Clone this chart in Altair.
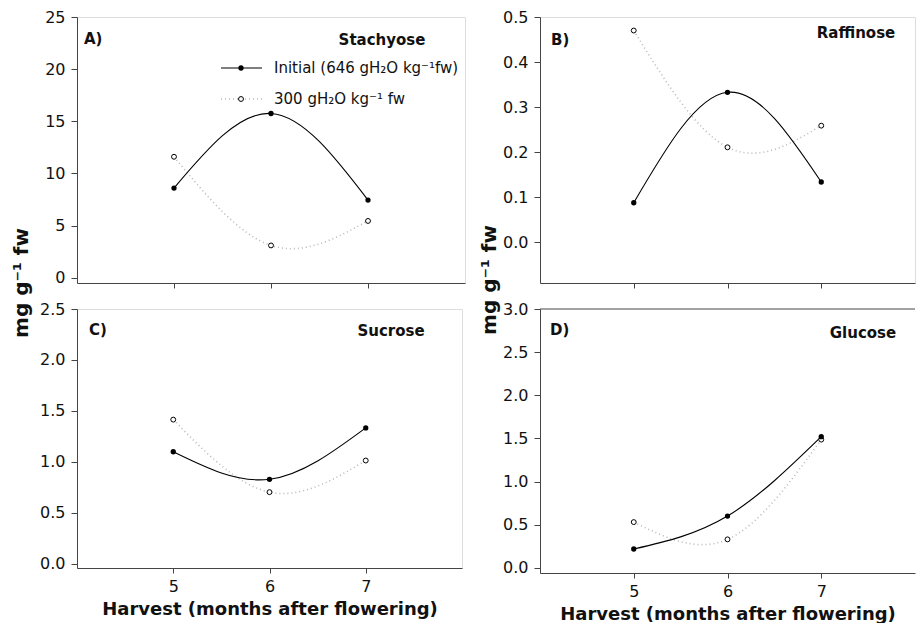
import altair as alt
import pandas as pd

# ---- data ----
months = [5, 6, 7]
stachyose_initial = [8.6, 15.75, 7.45]
stachyose_300 = [11.6, 3.1, 5.45]
raffinose_initial = [0.088, 0.333, 0.134]
raffinose_300 = [0.47, 0.211, 0.259]
sucrose_initial = [1.10, 0.83, 1.334]
sucrose_300 = [1.415, 0.704, 1.014]
glucose_initial = [0.218, 0.60, 1.52]
glucose_300 = [0.53, 0.33, 1.486]

x_ticks = [5, 6, 7]
stach_ticks = [0, 5, 10, 15, 20, 25]
raff_ticks = [0.0, 0.1, 0.2, 0.3, 0.4, 0.5]
sucr_ticks = [0.0, 0.5, 1.0, 1.5, 2.0, 2.5]
gluc_ticks = [0.0, 0.5, 1.0, 1.5, 2.0, 2.5, 3.0]

legend_labels = ["Initial (646 gH\u2082O kg\u207b\u00b9fw)", "300 gH\u2082O kg\u207b\u00b9 fw"]
y_title = "mg g\u207b\u00b9 fw"
x_title = "Harvest (months after flowering)"

FONT = "DejaVu Sans"
AXIS_COLOR = "#444444"
TEXT_COLOR = "#111111"


def text_layer(txt, x, y, size, bold=True, align="left", angle=0, baseline="alphabetic"):
    kw = dict(font=FONT, fontSize=size, fontWeight="bold" if bold else "normal",
              align=align, baseline=baseline, color=TEXT_COLOR)
    if angle:
        kw["angle"] = angle
    return alt.Chart(pd.DataFrame({"t": [txt]})).mark_text(**kw).encode(
        text="t:N", x=alt.value(x), y=alt.value(y))


def panel(initial, dry, ydomain, yticks, yfmt, letter, letter_xy, name, name_xy,
          width, height, bottom_row, legend=False, ytitle_xy=None, frame=True):
    df = pd.DataFrame({"month": months, "initial": initial, "dry": dry})
    xaxis_kw = dict(values=x_ticks, grid=False, domainColor=AXIS_COLOR, tickColor=AXIS_COLOR,
                    tickSize=5, labelFont=FONT, labelFontSize=16, labelColor=TEXT_COLOR,
                    labelPadding=5, format="d", labelFlush=False)
    if bottom_row:
        xaxis_kw.update(title=x_title, titleFont=FONT, titleFontSize=18, titleFontWeight="bold",
                        titleColor=TEXT_COLOR, titlePadding=6)
    else:
        xaxis_kw.update(labels=False, title="")
    yaxis_kw = dict(values=yticks, grid=False, domainColor=AXIS_COLOR, tickColor=AXIS_COLOR,
                    tickSize=6, labelFont=FONT, labelFontSize=16, labelColor=TEXT_COLOR,
                    labelPadding=6, format=yfmt, title="", labelFlush=False)
    x = alt.X("month:Q", scale=alt.Scale(domain=[4, 8], nice=False, zero=False),
              axis=alt.Axis(**xaxis_kw))
    yscale = alt.Scale(domain=ydomain, nice=False, zero=False)
    base = alt.Chart(df)
    dry_line = base.mark_line(interpolate="natural", color="#b8b8b8", strokeDash=[1, 3],
                              strokeWidth=1.6).encode(x=x, y=alt.Y("dry:Q", scale=yscale, axis=alt.Axis(**yaxis_kw)))
    ini_line = base.mark_line(interpolate="natural", color="black", strokeWidth=1.1).encode(
        x=x, y=alt.Y("initial:Q", scale=yscale, axis=alt.Axis(**yaxis_kw)))
    dry_pts = base.mark_point(shape="circle", filled=True, fill="white", stroke="black",
                              strokeWidth=1, size=24, opacity=1).encode(
        x=x, y=alt.Y("dry:Q", scale=yscale, axis=alt.Axis(**yaxis_kw)))
    ini_pts = base.mark_point(shape="circle", filled=True, color="black", size=28, opacity=1).encode(
        x=x, y=alt.Y("initial:Q", scale=yscale, axis=alt.Axis(**yaxis_kw)))
    layers = [dry_line, ini_line, dry_pts, ini_pts,
              text_layer(letter, letter_xy[0], letter_xy[1], 15),
              text_layer(name, name_xy[0], name_xy[1], 15, align="center")]
    if legend:
        one = pd.DataFrame({"k": [0]})
        layers += [
            alt.Chart(one).mark_rule(color="black", strokeWidth=1.1).encode(
                x=alt.value(144), x2=alt.value(185), y=alt.value(51)),
            alt.Chart(one).mark_point(shape="circle", filled=True, color="black", size=28, opacity=1).encode(
                x=alt.value(164), y=alt.value(51)),
            text_layer(legend_labels[0], 197, 51, 15, bold=False, baseline="middle"),
            alt.Chart(one).mark_rule(color="#b8b8b8", strokeWidth=1.6, strokeDash=[1, 3]).encode(
                x=alt.value(144), x2=alt.value(185), y=alt.value(82)),
            alt.Chart(one).mark_point(shape="circle", filled=True, fill="white", stroke="black",
                                      strokeWidth=1, size=24, opacity=1).encode(
                x=alt.value(164), y=alt.value(82)),
            text_layer(legend_labels[1], 197, 82, 15, bold=False, baseline="middle"),
        ]
    if ytitle_xy is not None:
        layers.append(text_layer(y_title, ytitle_xy[0], ytitle_xy[1], 20, align="center",
                                 angle=270, baseline="middle"))
    if not frame:
        layers.append(alt.Chart(pd.DataFrame({"k": [0]})).mark_rule(color=AXIS_COLOR, strokeWidth=1).encode(
            x=alt.value(0), x2=alt.value(width), y=alt.value(0)))
    ch = alt.layer(*layers).properties(width=width, height=height)
    if not frame:
        ch = ch.properties(view=alt.ViewBackground(stroke=None))
    return ch


A = panel(stachyose_initial, stachyose_300, [-0.5, 25], stach_ticks, "d",
          "A)", (7, 27), "Stachyose", (305, 28), 388, 266, False, legend=True, ytitle_xy=(-55, 266))
B = panel(raffinose_initial, raffinose_300, [-0.09, 0.5], raff_ticks, ".1f",
          "B)", (11, 28), "Raffinose", (316, 21), 375, 266, False, ytitle_xy=(-50, 263))
C = panel(sucrose_initial, sucrose_300, [-0.04, 2.5], sucr_ticks, ".1f",
          "C)", (12, 26), "Sucrose", (314, 27), 385, 259, True)
D = panel(glucose_initial, glucose_300, [-0.06, 3.0], gluc_ticks, ".1f",
          "D)", (10, 26), "Glucose", (323, 29), 375, 264, True, frame=False)

chart = alt.concat(A, B, C, D, columns=2, bounds="flush",
                   spacing=alt.RowColnumber(row=26, column=75)).properties(
    padding={"left": 3, "top": 0, "right": 0, "bottom": 0}
).configure_view(stroke=AXIS_COLOR, strokeWidth=1).configure(background="white")

chart.save("out.html", embed_options={"renderer": "svg", "actions": False})
